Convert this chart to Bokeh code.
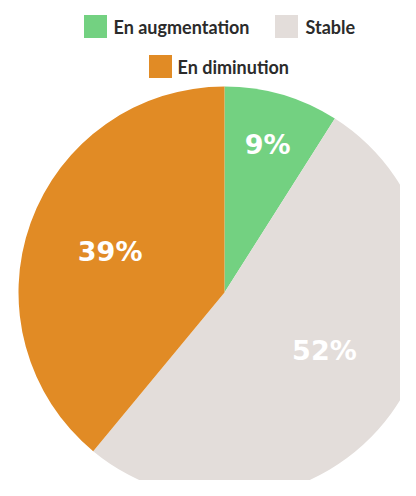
import math
from bokeh.plotting import figure
from bokeh.models import ColumnDataSource, Range1d
from bokeh.core.properties import value
from bokeh.embed import file_html
from bokeh.resources import INLINE

# ---- data ----
categories = ["En augmentation", "Stable", "En diminution"]
percents = [9, 52, 39]
colors = ["#73D181", "#E3DDDA", "#E18B25"]
labels = ["9%", "52%", "39%"]

# ---- layout constants ----
W, H = 400, 480
CX, CY, R = 224, 188, 206
label_r = [0.75, 0.56, 0.59]
label_shift = [0.0, -6.0, 0.0]  # degrees

total = float(sum(percents))
starts, ends, lx, ly = [], [], [], []
cum = 0.0
for i, v in enumerate(percents):
    a0 = cum / total
    cum += v
    a1 = cum / total
    s = math.pi / 2 - a0 * 2 * math.pi
    e = math.pi / 2 - a1 * 2 * math.pi
    starts.append(s)
    ends.append(e)
    mid = (s + e) / 2 - math.radians(label_shift[i])
    lx.append(CX + label_r[i] * R * math.cos(mid))
    ly.append(CY + label_r[i] * R * math.sin(mid))

src = ColumnDataSource(dict(cat=categories, pct=percents, color=colors,
                            start=starts, end=ends, lx=lx, ly=ly, label=labels))

p = figure(width=W, height=H, output_backend="svg", toolbar_location=None,
           x_range=Range1d(0, W), y_range=Range1d(0, H), min_border=0,
           background_fill_color="white", border_fill_color="white")
p.axis.visible = False
p.grid.visible = False
p.outline_line_color = None

p.wedge(x=CX, y=CY, radius=R, start_angle="start", end_angle="end",
        direction="clock", fill_color="color", line_color=None, source=src)

p.text(x="lx", y="ly", text="label", source=src, text_color="white",
       text_font=value("DejaVu Sans"), text_font_style="bold",
       text_font_size="27px", text_align="center", text_baseline="middle")

# ---- legend (manual, centered two rows) ----
leg_sq_x = [95, 286, 160]
leg_y = [454, 454, 414]
leg_tx = [113, 305, 177]
leg_src = ColumnDataSource(dict(sx=leg_sq_x, sy=leg_y, tx=leg_tx,
                                cat=categories, color=colors))
p.rect(x="sx", y="sy", width=23, height=23, width_units="screen",
       height_units="screen", fill_color="color", line_color=None, source=leg_src)
p.text(x="tx", y="sy", text="cat", source=leg_src, text_color="#2b2b2b",
       text_font=value("Lato"), text_font_style="bold", text_font_size="18px",
       text_align="left", text_baseline="middle")

open("out.html", "w").write(file_html(p, INLINE))
